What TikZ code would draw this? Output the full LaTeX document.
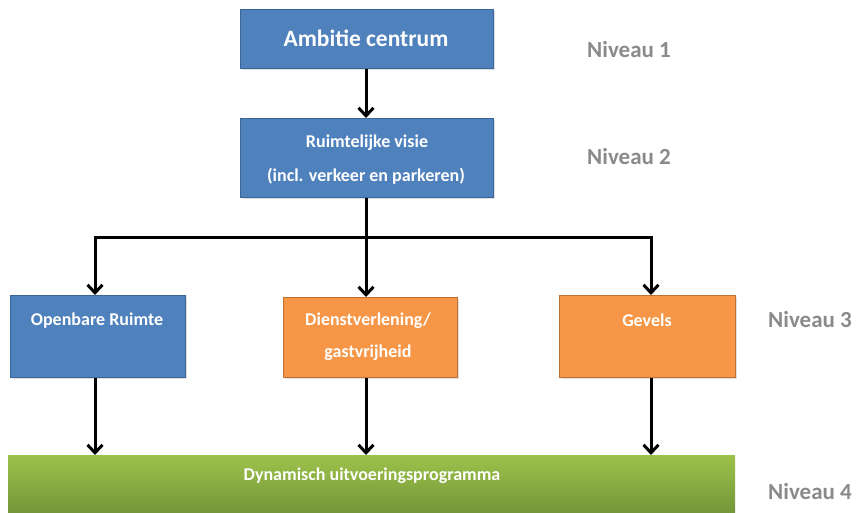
\documentclass[tikz,border=0pt]{standalone}
\usepackage{fontspec}
\setmainfont{Carlito}
\usetikzlibrary{arrows.meta,shadows}
\definecolor{bluefill}{HTML}{4F81BD}
\definecolor{blueedge}{HTML}{3A6595}
\definecolor{orangefill}{HTML}{F79646}
\definecolor{orangeedge}{HTML}{C0702F}
\definecolor{greentop}{HTML}{9DC24A}
\definecolor{greenbot}{HTML}{74963A}
\definecolor{levelgray}{HTML}{8A8A8A}
\tikzset{
  box/.style={draw, line width=1.2pt, anchor=north west, inner sep=0pt, drop shadow={opacity=0.25, shadow xshift=1.5pt, shadow yshift=-1.5pt}},
  bluebox/.style={box, fill=bluefill, draw=blueedge},
  orangebox/.style={box, fill=orangefill, draw=orangeedge},
  boxtext/.style={text=white, font=\fontsize{18}{20}\selectfont\bfseries, inner sep=0pt},
  level/.style={text=levelgray, font=\fontsize{23}{25}\selectfont\bfseries, inner sep=0pt, anchor=west},
  conn/.style={line width=3pt, -{Straight Barb[length=8pt,width=15pt,line width=3pt]}},
  seg/.style={line width=3pt},
}
\begin{document}
\begin{tikzpicture}[x=1pt,y=-1pt]
\useasboundingbox (0,0) rectangle (856,513);
% boxes
\node[bluebox, minimum width=253pt, minimum height=59pt] (amb) at (240,9) {};
\node[bluebox, minimum width=253pt, minimum height=79pt] (rv) at (240,118) {};
\node[bluebox, minimum width=175pt, minimum height=82pt] (or) at (10,295) {};
\node[orangebox, minimum width=174pt, minimum height=80pt] (dv) at (283,297) {};
\node[orangebox, minimum width=176pt, minimum height=82pt] (gv) at (559,295) {};
\shade[top color=greentop, bottom color=greenbot] (8,455) rectangle (735,513);
% texts
\node[text=white, font=\fontsize{23.5}{26}\selectfont\bfseries, inner sep=0pt] (tamb) at (366,38) {Ambitie centrum};
\node[boxtext] (trv1) at (367,143) {Ruimtelijke visie};
\node[boxtext] (trv2) at (366,176) {(incl. verkeer en parkeren)};
\node[boxtext] (tor) at (97,321) {Openbare Ruimte};
\node[boxtext] (tdv1) at (368,321) {Dienstverlening/};
\node[boxtext] (tdv2) at (368,353) {gastvrijheid};
\node[boxtext] (tgv) at (647,320) {Gevels};
\node[boxtext] (tdup) at (372,476) {Dynamisch uitvoeringsprogramma};
% levels
\node[level] (n1) at (587,50) {Niveau 1};
\node[level] (n2) at (587,157) {Niveau 2};
\node[level] (n3) at (768,320) {Niveau 3};
\node[level] (n4) at (768,492) {Niveau 4};
% connectors
\coordinate (bl) at (95,237);
\coordinate (bm) at (366,237);
\coordinate (br) at (651,237);
\draw[conn] (amb.south -| 366,0) -- (rv.north -| 366,0);
\draw[seg] (rv.south -| 366,0) -- (bm);
\draw[seg, line cap=rect] (bl) -- (br);
\draw[conn] (bl) -- (bl |- or.north);
\draw[conn] (bm) -- (bm |- dv.north);
\draw[conn] (br) -- (br |- gv.north);
\draw[conn] (or.south -| 95,0) -- (95,455);
\draw[conn] (dv.south -| 366,0) -- (366,455);
\draw[conn] (gv.south -| 651,0) -- (651,455);
\end{tikzpicture}
\end{document}
